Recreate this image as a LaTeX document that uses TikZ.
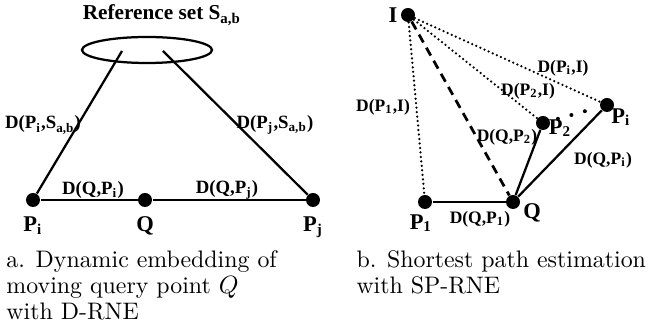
\documentclass[tikz,border=0pt]{standalone}
\usepackage{fontspec}
\usetikzlibrary{positioning,shapes.geometric}
\newfontfamily\labelfont{Liberation Serif}
\tikzset{%
  vertex/.style={circle,fill=black,inner sep=0pt,minimum size=5.6pt},
  ptlabel/.style={font=\labelfont\bfseries\fontsize{9}{10}\selectfont,inner sep=0pt},
  dlabel/.style={font=\labelfont\bfseries\fontsize{7.5}{8}\selectfont,inner sep=0pt},
  dlabelsmall/.style={font=\labelfont\bfseries\fontsize{7}{8}\selectfont,inner sep=0pt},
  caption/.style={font=\fontsize{9.55}{10.4}\selectfont,align=left,inner sep=0pt,anchor=north west},
  link/.style={line width=0.9pt},
  dotlink/.style={line width=1pt,dash pattern=on 0pt off 1.8pt,line cap=round},
  dashlink/.style={line width=1.1pt,dash pattern=on 3.6pt off 2.4pt},
  morelink/.style={line width=1.6pt,dash pattern=on 0pt off 5.6pt,line cap=round,
    shorten <=3.2pt,shorten >=3.2pt}
}
\begin{document}
\begin{tikzpicture}[x=0.4pt,y=-0.4pt]
  \useasboundingbox (0,0) rectangle (654,331);
  % a. dynamic embedding
  \node[ellipse,draw,line width=0.9pt,minimum width=52pt,minimum height=10.4pt,inner sep=0pt] (refset) at (147,50) {};
  \node[font=\labelfont\bfseries\fontsize{8.5}{9}\selectfont,inner sep=0pt] (reftitle) at (162,15) {Reference set S\textsubscript{a,b}};
  \coordinate (refl) at (122,51);
  \coordinate (refr) at (163,51);
  \node[vertex] (pi) at (33,200) {};
  \node[vertex] (q) at (145,200) {};
  \node[vertex] (pj) at (313,200) {};
  \node[ptlabel, below=3.5pt of pi] (pilab) {P\textsubscript{i}};
  \node[ptlabel, below=3.5pt of q] (qlab) {Q};
  \node[ptlabel, below=3.5pt of pj] (pjlab) {P\textsubscript{j}};
  \draw[link] (refl) -- (pi);
  \draw[link] (refr) -- (pj);
  \draw[link] (pi) -- (q);
  \draw[link] (q) -- (pj);
  \node[dlabel] (dpis) at (43,125) {D(P\textsubscript{i},S\textsubscript{a,b})};
  \node[dlabel] (dpjs) at (275,125) {D(P\textsubscript{j},S\textsubscript{a,b})};
  \node[dlabel] (dqpi) at (93,190) {D(Q,P\textsubscript{i})};
  \node[dlabel] (dqpj) at (227,190) {D(Q,P\textsubscript{j})};
  \node[caption] (capa) at (6,250) {a. Dynamic embedding of\\moving query point $Q$\\with D-RNE};
  % b. shortest path estimation
  \node[vertex] (ib) at (408,15) {};
  \node[vertex] (p1b) at (425,202) {};
  \node[vertex] (qb) at (513,202) {};
  \node[vertex] (p2b) at (543,123) {};
  \node[vertex] (pib) at (607,105) {};
  \node[ptlabel, left=1pt of ib] (iblab) {I};
  \node[ptlabel] (p1blab) at (421,223) {P\textsubscript{1}};
  \node[ptlabel] (qblab) at (532,213) {Q};
  \node[ptlabel] (p2blab) at (560,128) {P\textsubscript{2}};
  \node[ptlabel] (piblab) at (621,117) {P\textsubscript{i}};
  \draw[dotlink] (ib) -- (p1b);
  \draw[dotlink] (ib) -- (p2b);
  \draw[dotlink] (ib) -- (pib);
  \draw[dashlink] (ib) -- (qb);
  \draw[morelink] (p2b) -- (pib);
  \draw[link] (p1b) -- (qb);
  \draw[link] (qb) -- (p2b);
  \draw[link] (qb) -- (pib);
  \node[dlabelsmall] (dp1i) at (383,107) {D(P\textsubscript{1},I)};
  \node[dlabelsmall] (dpii) at (563,68) {D(P\textsubscript{i},I)};
  \node[dlabelsmall] (dp2i) at (528,91) {D(P\textsubscript{2},I)};
  \node[dlabelsmall] (dqp2) at (507,137) {D(Q,P\textsubscript{2})};
  \node[dlabelsmall] (dqpib) at (603,160) {D(Q,P\textsubscript{i})};
  \node[dlabelsmall] (dqp1) at (480,219) {D(Q,P\textsubscript{1})};
  \node[caption] (capb) at (356,250) {b. Shortest path estimation\\with SP-RNE};
\end{tikzpicture}
\end{document}
